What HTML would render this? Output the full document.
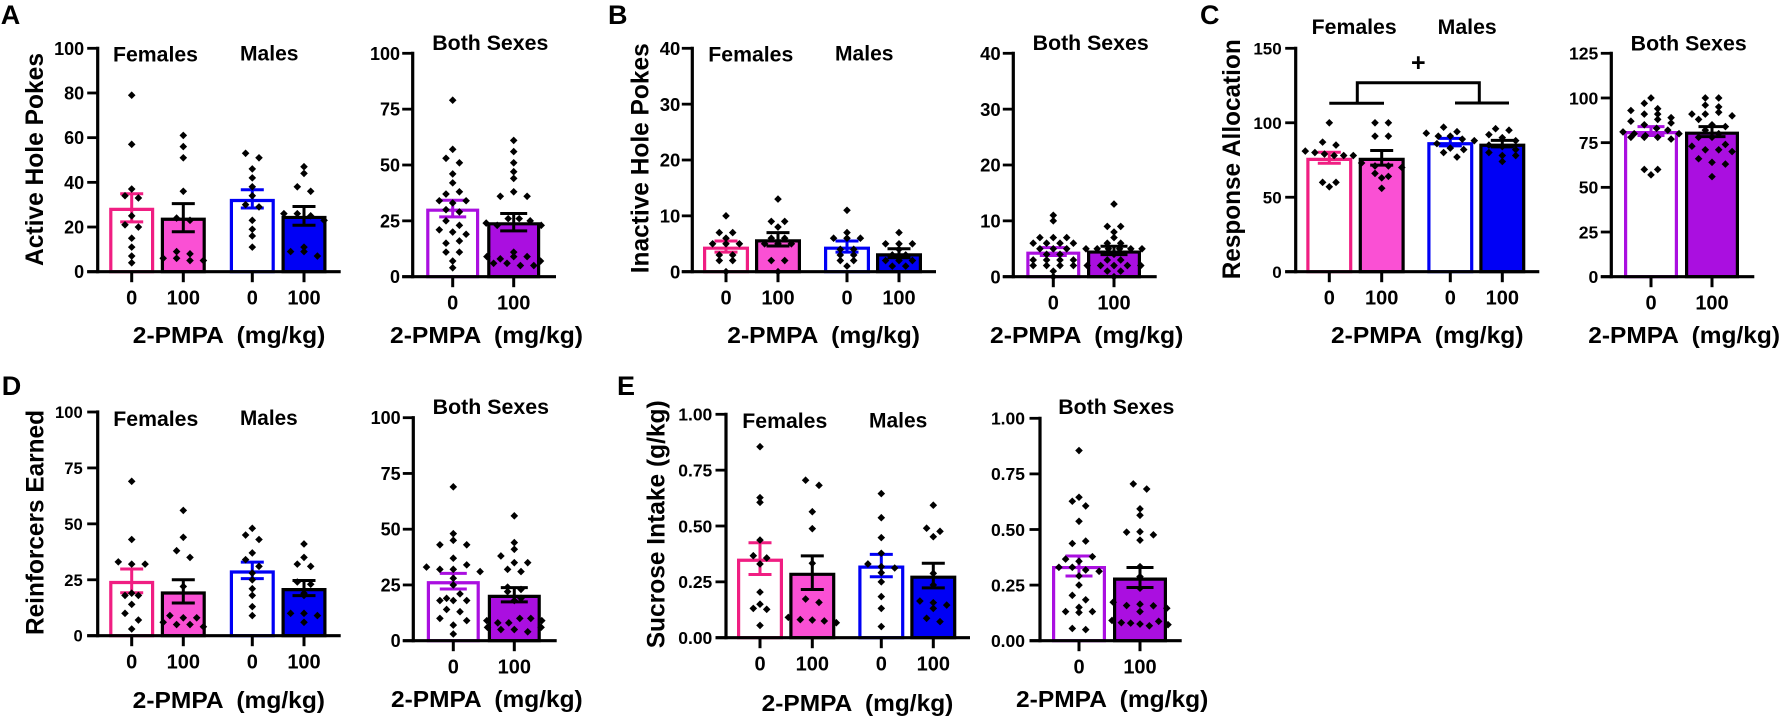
<!DOCTYPE html>
<html lang="en">
<head>
<meta charset="utf-8">
<title>2-PMPA effects on operant responding</title>
<style>
html,body{margin:0;padding:0;background:#fff;width:1788px;height:723px;overflow:hidden}
svg{display:block}
text{font-family:"Liberation Sans",Arial,sans-serif;font-weight:bold;fill:#000}
</style>
</head>
<body>
<svg id="figure" xmlns="http://www.w3.org/2000/svg" width="1788" height="723" viewBox="0 0 1788 723">
  <rect x="0" y="0" width="1788" height="723" fill="#fff"/>

  <text x="0.7" y="24" font-size="27">A</text>
  <text x="608" y="24" font-size="27">B</text>
  <text x="1200" y="24" font-size="27">C</text>
  <text x="1.7" y="395" font-size="27">D</text>
  <text x="617" y="395" font-size="27">E</text>

  <g id="panel-a-sex">
    <text transform="translate(43,266) rotate(-90)" font-size="25" textLength="213" lengthAdjust="spacingAndGlyphs">Active Hole Pokes</text>
    <text x="113" y="61.5" font-size="21" textLength="85" lengthAdjust="spacingAndGlyphs">Females</text>
    <text x="240" y="60.5" font-size="21" textLength="58.5" lengthAdjust="spacingAndGlyphs">Males</text>
    <text x="132.8" y="343" font-size="23" textLength="192.5" lengthAdjust="spacingAndGlyphs" xml:space="preserve">2-PMPA  (mg/kg)</text>
  </g>
  <g id="panel-a-both">
    <text x="432.3" y="50" font-size="21" textLength="116" lengthAdjust="spacingAndGlyphs">Both Sexes</text>
    <text x="390" y="343" font-size="23" textLength="193" lengthAdjust="spacingAndGlyphs" xml:space="preserve">2-PMPA  (mg/kg)</text>
  </g>

  <g id="panel-b-sex">
    <text transform="translate(648.3,273.3) rotate(-90)" font-size="25" textLength="230" lengthAdjust="spacingAndGlyphs">Inactive Hole Pokes</text>
    <text x="708.3" y="61.5" font-size="21" textLength="85" lengthAdjust="spacingAndGlyphs">Females</text>
    <text x="835" y="60.5" font-size="21" textLength="58.5" lengthAdjust="spacingAndGlyphs">Males</text>
    <text x="727.3" y="343" font-size="23" textLength="192.7" lengthAdjust="spacingAndGlyphs" xml:space="preserve">2-PMPA  (mg/kg)</text>
  </g>
  <g id="panel-b-both">
    <text x="1032.7" y="50" font-size="21" textLength="116" lengthAdjust="spacingAndGlyphs">Both Sexes</text>
    <text x="990" y="343" font-size="23" textLength="193.3" lengthAdjust="spacingAndGlyphs" xml:space="preserve">2-PMPA  (mg/kg)</text>
  </g>

  <g id="panel-c-sex">
    <text transform="translate(1240,279.3) rotate(-90)" font-size="25" textLength="240" lengthAdjust="spacingAndGlyphs">Response Allocation</text>
    <text x="1311.7" y="34" font-size="21" textLength="85" lengthAdjust="spacingAndGlyphs">Females</text>
    <text x="1437.7" y="34" font-size="21" textLength="59" lengthAdjust="spacingAndGlyphs">Males</text>
    <text x="1331" y="343" font-size="23" textLength="192.5" lengthAdjust="spacingAndGlyphs" xml:space="preserve">2-PMPA  (mg/kg)</text>
    <path d="M1329.3 103.3H1384M1455 103H1509M1357.3 103.3V82.7H1479.3V103" fill="none" stroke="#000" stroke-width="3"/>
    <text x="1418.3" y="71" font-size="25" text-anchor="middle">+</text>
  </g>
  <g id="panel-c-both">
    <text x="1630.7" y="50.5" font-size="21" textLength="116" lengthAdjust="spacingAndGlyphs">Both Sexes</text>
    <text x="1588.3" y="343" font-size="23" textLength="191.7" lengthAdjust="spacingAndGlyphs" xml:space="preserve">2-PMPA  (mg/kg)</text>
  </g>

  <g id="panel-d-sex">
    <text transform="translate(43.3,635) rotate(-90)" font-size="25" textLength="225" lengthAdjust="spacingAndGlyphs">Reinforcers Earned</text>
    <text x="113.3" y="425.8" font-size="21" textLength="85" lengthAdjust="spacingAndGlyphs">Females</text>
    <text x="240" y="424.8" font-size="21" textLength="57.7" lengthAdjust="spacingAndGlyphs">Males</text>
    <text x="132.7" y="708" font-size="23" textLength="192.3" lengthAdjust="spacingAndGlyphs" xml:space="preserve">2-PMPA  (mg/kg)</text>
  </g>
  <g id="panel-d-both">
    <text x="432.7" y="414" font-size="21" textLength="116.3" lengthAdjust="spacingAndGlyphs">Both Sexes</text>
    <text x="391" y="707" font-size="23" textLength="191.7" lengthAdjust="spacingAndGlyphs" xml:space="preserve">2-PMPA  (mg/kg)</text>
  </g>

  <g id="panel-e-sex">
    <text transform="translate(664.3,648.3) rotate(-90)" font-size="25" textLength="248" lengthAdjust="spacingAndGlyphs">Sucrose Intake (g/kg)</text>
    <text x="742.3" y="428.2" font-size="21" textLength="85" lengthAdjust="spacingAndGlyphs">Females</text>
    <text x="869" y="427.5" font-size="21" textLength="58.3" lengthAdjust="spacingAndGlyphs">Males</text>
    <text x="761.7" y="711" font-size="23" textLength="191.6" lengthAdjust="spacingAndGlyphs" xml:space="preserve">2-PMPA  (mg/kg)</text>
  </g>
  <g id="panel-e-both">
    <text x="1058.3" y="414" font-size="21" textLength="116" lengthAdjust="spacingAndGlyphs">Both Sexes</text>
    <text x="1016" y="707" font-size="23" textLength="192.3" lengthAdjust="spacingAndGlyphs" xml:space="preserve">2-PMPA  (mg/kg)</text>
  </g>
</svg>

<script>
// ---------- Shared categories ----------
const doseLabels = ['0', '100'];

// ---------- Panel A: active hole pokes ----------
const aFemale0 = [79,57,37,34,33,25,21,20,15,11,7,4];
const aFemale100 = [61,56,51,36,24,23,9,8,6,6,5,5];
const aMale0 = [53,51,46,42,38,34,30,29,23,19,16,11];
const aMale100 = [47,44,38,36,26,26,25,23,11,9,9,7];
const aSexMeans = [28.6,24.2,32.6,25];
const aSexSems = [6.3,6.3,4.1,4.2];
const aBothMeans = [30.5,24.4];
const aBothSems = [3.7,3.9];
const aSexTicks = [0,20,40,60,80,100];
const aBothTicks = [0,25,50,75,100];

// ---------- Panel B: inactive hole pokes ----------
const bFemale0 = [10,7,7,6,5,5,5,3,3,2,2,0];
const bFemale100 = [13,9,9,8,6,6,5,5,5,2,2,0];
const bMale0 = [11,7,6,6,6,4,4,3,3,2,2,1];
const bMale100 = [7,5,5,5,4,3,3,2,2,2,1,1];
const bSexMeans = [4.5,5.8,4.5,3.3];
const bSexSems = [1,1.2,1,0.8];
const bBothMeans = [4.5,4.7];
const bBothSems = [0.7,0.75];
const bSexTicks = [0,10,20,30,40];
const bBothTicks = [0,10,20,30,40];

// ---------- Panel C: response allocation ----------
const cFemale0 = [100,87,85,81,80,79,78,78,78,60,60,57];
const cFemale100 = [100,100,91,91,73,71,71,70,66,64,63,56];
const cMale0 = [97,94,93,91,91,89,88,86,83,82,80,77];
const cMale100 = [96,95,92,90,88,85,84,82,80,78,78,74];
const cSexMeans = [76.5,76.5,87,86];
const cSexSems = [3.7,4.9,2.5,2.2];
const cBothMeans = [81.5,81.2];
const cBothSems = [2.5,2.8];
const cSexTicks = [0,50,100,150];
const cBothTicks = [0,25,50,75,100,125];

// ---------- Panel D: reinforcers earned ----------
const dFemale0 = [69,43,33,32,32,19,18,18,14,10,7,3];
const dFemale100 = [56,44,38,35,22,9,8,8,6,5,5,4];
const dMale0 = [48,45,43,37,34,31,28,25,21,18,13,9];
const dMale100 = [41,35,32,31,24,23,19,18,10,10,9,6];
const dSexMeans = [24.5,19.8,29.2,21.3];
const dSexSems = [5.3,5.2,3.7,3.4];
const dBothMeans = [26.7,20.6];
const dBothSems = [3.5,3.2];
const dSexTicks = [0,25,50,75,100];
const dBothTicks = [0,25,50,75,100];

// ---------- Panel E: sucrose intake ----------
const eFemale0 = [0.855,0.627,0.606,0.437,0.367,0.357,0.33,0.204,0.15,0.131,0.127,0.055];
const eFemale100 = [0.705,0.682,0.564,0.488,0.333,0.173,0.158,0.091,0.081,0.079,0.075,0.067];
const eMale0 = [0.645,0.537,0.448,0.378,0.33,0.318,0.312,0.291,0.25,0.184,0.131,0.05];
const eMale100 = [0.593,0.49,0.476,0.452,0.288,0.236,0.164,0.157,0.146,0.131,0.087,0.072];
const eSexMeans = [0.354,0.291,0.323,0.278];
const eSexSems = [0.071,0.075,0.05,0.055];
const eBothMeans = [0.336,0.284];
const eBothSems = [0.045,0.045];
const eSexTicks = [0,0.25,0.5,0.75,1];
const eBothTicks = [0,0.25,0.5,0.75,1];

// ---------- Styles ----------
const PINK_LINE = '#f01e82';
const PINK_FILL = '#fa50d4';
const BLUE = '#0000f5';
const PURPLE = '#aa0fe0';

const NS = 'http://www.w3.org/2000/svg';

function make(tag, geometry, parent) {
  const node = document.createElementNS(NS, tag);
  for (const key in geometry) node.setAttribute(key, geometry[key]);
  parent.appendChild(node);
  return node;
}

function openStyle(color) { return { stroke: color, fill: '#fff' }; }
function solidStyle(color) { return { stroke: '#000', fill: color }; }

function sexSeries(points, means, sems) {
  return [
    { values: points[0], mean: means[0], sem: sems[0], look: openStyle(PINK_LINE) },
    { values: points[1], mean: means[1], sem: sems[1], look: solidStyle(PINK_FILL) },
    { values: points[2], mean: means[2], sem: sems[2], look: openStyle(BLUE) },
    { values: points[3], mean: means[3], sem: sems[3], look: solidStyle(BLUE) }
  ];
}
function bothSeries(points, means, sems) {
  return [
    { values: points[0].concat(points[2]), mean: means[0], sem: sems[0], look: openStyle(PURPLE) },
    { values: points[1].concat(points[3]), mean: means[1], sem: sems[1], look: solidStyle(PURPLE) }
  ];
}

const aPoints = [aFemale0, aFemale100, aMale0, aMale100];
const bPoints = [bFemale0, bFemale100, bMale0, bMale100];
const cPoints = [cFemale0, cFemale100, cMale0, cMale100];
const dPoints = [dFemale0, dFemale100, dMale0, dMale100];
const ePoints = [eFemale0, eFemale100, eMale0, eMale100];

// Layout only: pixel frames of each plot. All marks come from the arrays above via the axis functions.
const charts = [
  { id:'panel-a-sex',  x0:97.7,   top:48.3,  zero:271.7, xEnd:340.7,  centers:[131.7,183.3,252.3,304],     half:22.5, cap:11.5, ticks:aSexTicks,  digits:0, size:18,   gap:13.5, bin:9,   series:sexSeries(aPoints,aSexMeans,aSexSems) },
  { id:'panel-a-both', x0:412.7,  top:53.3,  zero:276.7, xEnd:556,    centers:[452.7,513.7],               half:26.5, cap:13.5, ticks:aBothTicks, digits:0, size:18,   gap:12.7, bin:9,   series:bothSeries(aPoints,aBothMeans,aBothSems) },
  { id:'panel-b-sex',  x0:692.3,  top:48.3,  zero:271.7, xEnd:936,    centers:[726,778,847,899],           half:23,   cap:11.5, ticks:bSexTicks,  digits:0, size:18.5, gap:12,   bin:5.5, series:sexSeries(bPoints,bSexMeans,bSexSems) },
  { id:'panel-b-both', x0:1013.3, top:53.3,  zero:276.7, xEnd:1156.7, centers:[1053.3,1114],               half:27,   cap:13.5, ticks:bBothTicks, digits:0, size:18.5, gap:12.6, bin:5.5, series:bothSeries(bPoints,bBothMeans,bBothSems) },
  { id:'panel-c-sex',  x0:1295.7, top:48.3,  zero:271.7, xEnd:1539.3, centers:[1329.3,1381.7,1450.3,1502.3], half:23, cap:11.5, ticks:cSexTicks,  digits:0, size:17,   gap:14,   bin:9,   series:sexSeries(cPoints,cSexMeans,cSexSems) },
  { id:'panel-c-both', x0:1611.3, top:53.3,  zero:276.7, xEnd:1754.3, centers:[1651,1712],                 half:27,   cap:13.5, ticks:cBothTicks, digits:0, size:17.6, gap:13,   bin:9,   series:bothSeries(cPoints,cBothMeans,cBothSems) },
  { id:'panel-d-sex',  x0:97.7,   top:412,   zero:635.7, xEnd:340.7,  centers:[131.7,183.3,252.3,304],     half:22.5, cap:11.5, ticks:dSexTicks,  digits:0, size:16.6, gap:15,   bin:9,   series:sexSeries(dPoints,dSexMeans,dSexSems) },
  { id:'panel-d-both', x0:413.3,  top:417.7, zero:640.7, xEnd:556.7,  centers:[453.3,514.3],               half:26.5, cap:13.5, ticks:dBothTicks, digits:0, size:18,   gap:12.6, bin:9,   series:bothSeries(dPoints,dBothMeans,dBothSems) },
  { id:'panel-e-sex',  x0:726,    top:414.3, zero:637.7, xEnd:970,    centers:[760,812.3,881.3,933.3],     half:23,   cap:11.5, ticks:eSexTicks,  digits:2, size:17.5, gap:13.7, bin:9,   series:sexSeries(ePoints,eSexMeans,eSexSems) },
  { id:'panel-e-both', x0:1040,   top:418.3, zero:640.7, xEnd:1181.7, centers:[1079,1140],                 half:27,   cap:13.5, ticks:eBothTicks, digits:2, size:17.5, gap:15,   bin:9,   series:bothSeries(ePoints,eBothMeans,eBothSems) }
];

const AXIS_W = 3.2;
const BAR_W = 3.2;
const TICK_LEN = 10.5;
const DOT_R = 3.8;
const COLUMN_PX = 13.4;

// Prism-style column scatter: values in the same pixel bin spread symmetrically about the bar centre.
function swarmOffsets(values, yScale, zero, half, binPx) {
  const bins = {};
  values.forEach(function (v, i) {
    const b = Math.round((zero - yScale(v)) / binPx);
    (bins[b] = bins[b] || []).push(i);
  });
  const offsets = new Array(values.length).fill(0);
  Object.keys(bins).forEach(function (b) {
    const members = bins[b];
    const n = members.length;
    const step = n > 1 ? Math.min(COLUMN_PX, 2 * (half + 1) / (n - 1)) : 0;
    members.forEach(function (idx, k) {
      offsets[idx] = (k - (n - 1) / 2) * step;
    });
  });
  return offsets;
}

function drawChart(chart) {
  const root = document.getElementById(chart.id);
  const maxTick = chart.ticks[chart.ticks.length - 1];
  const yScale = function (v) { return chart.zero - (v / maxTick) * (chart.zero - chart.top); };

  // Bars and error bars
  chart.series.forEach(function (s, i) {
    const cx = chart.centers[i];
    const yMean = yScale(s.mean) + BAR_W / 2;
    const bar = make('path', {
      d: 'M' + (cx - chart.half + BAR_W / 2) + ' ' + chart.zero +
         'V' + yMean + 'H' + (cx + chart.half - BAR_W / 2) + 'V' + chart.zero + 'Z',
      fill: s.look.fill, stroke: s.look.stroke, 'stroke-width': BAR_W
    }, root);
    
    

    const yHi = yScale(s.mean + s.sem);
    const yLo = yScale(s.mean - s.sem);
    const err = make('path', {
      d: 'M' + cx + ' ' + yHi + 'V' + yLo +
         'M' + (cx - chart.cap) + ' ' + yHi + 'H' + (cx + chart.cap) +
         'M' + (cx - chart.cap) + ' ' + yLo + 'H' + (cx + chart.cap),
      fill: 'none', stroke: s.look.stroke, 'stroke-width': 3
    }, root);
    
    
  });

  // Axes
  const yAxis = make('line', {
    x1: chart.x0, x2: chart.x0, y1: chart.top - AXIS_W / 2, y2: chart.zero + AXIS_W / 2,
    stroke: '#000', 'stroke-width': AXIS_W
  }, root);
  
  

  const xAxis = make('line', {
    x1: chart.x0 - TICK_LEN, x2: chart.xEnd, y1: chart.zero, y2: chart.zero,
    stroke: '#000', 'stroke-width': AXIS_W
  }, root);
  
  

  chart.ticks.forEach(function (t) {
    const y = yScale(t);
    const tick = make('line', {
      x1: chart.x0 - TICK_LEN, x2: chart.x0, y1: y, y2: y,
      stroke: '#000', 'stroke-width': 2.8
    }, root);
    
    

    const label = make('text', {
      x: chart.x0 - chart.gap, y: y + chart.size * 0.36,
      'font-size': chart.size, 'text-anchor': 'end'
    }, root);
    label.textContent = chart.digits ? t.toFixed(chart.digits) : String(t);
    
    
  });

  chart.series.forEach(function (s, i) {
    const cx = chart.centers[i];
    const tick = make('line', {
      x1: cx, x2: cx, y1: chart.zero, y2: chart.zero + TICK_LEN,
      stroke: '#000', 'stroke-width': 3
    }, root);
    
    

    const label = make('text', {
      x: cx, y: chart.zero + 33, 'font-size': 20, 'text-anchor': 'middle'
    }, root);
    label.textContent = doseLabels[i % doseLabels.length];
    
    
  });

  // Individual subjects on top
  chart.series.forEach(function (s, i) {
    const cx = chart.centers[i];
    const offsets = swarmOffsets(s.values, yScale, chart.zero, chart.half, chart.bin);
    s.values.forEach(function (v, j) {
      const px = cx + offsets[j];
      const py = yScale(v);
      const dot = make('path', {
        d: 'M' + px + ' ' + (py - DOT_R) + 'L' + (px + DOT_R) + ' ' + py +
           'L' + px + ' ' + (py + DOT_R) + 'L' + (px - DOT_R) + ' ' + py + 'Z',
        fill: '#000'
      }, root);
      
      
    });
  });
}

charts.forEach(drawChart);
</script>
</body>
</html>
